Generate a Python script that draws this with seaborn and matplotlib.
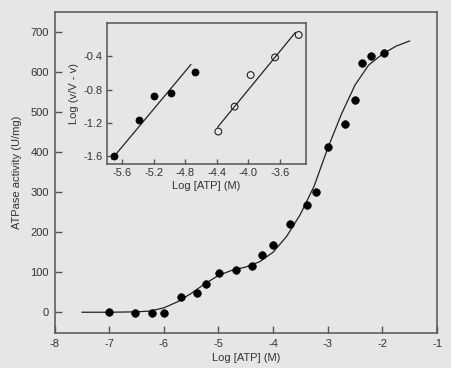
"""ATPase activity vs ATP concentration with Hill plot inset."""

import matplotlib

matplotlib.use("Agg")
import matplotlib.pyplot as plt
import pandas as pd
import seaborn as sns

# main panel: measured activity
log_atp = [-7.0, -6.52, -6.21, -5.99, -5.68, -5.39, -5.22, -4.99, -4.68, -4.39,
           -4.21, -4.0, -3.69, -3.38, -3.21, -2.99, -2.68, -2.50, -2.37, -2.20, -1.97]
activity = [0, -1, -2, -1, 38, 49, 71, 99, 105, 116,
            144, 167, 221, 268, 301, 414, 470, 531, 622, 641, 647]

# main panel: fitted curve
fit_x = [-7.5, -7.0, -6.5, -6.25, -6.0, -5.75, -5.5, -5.25, -5.0, -4.75, -4.5, -4.25,
         -4.0, -3.75, -3.5, -3.25, -3.0, -2.75, -2.5, -2.25, -2.0, -1.75, -1.5]
fit_y = [0, 0, 1, 3, 11, 26, 47, 71, 92, 105, 113, 126,
         150, 190, 245, 315, 410, 495, 568, 618, 645, 665, 678]

# inset: Hill plot, high-affinity (filled) and low-affinity (open) sites
hill_hi_x = [-5.705, -5.384, -5.197, -4.985, -4.685]
hill_hi_y = [-1.60, -1.171, -0.878, -0.838, -0.585]
hill_hi_line_x = [-5.735, -4.73]
hill_hi_line_y = [-1.641, -0.497]

hill_lo_x = [-4.383, -4.176, -3.973, -3.663, -3.363]
hill_lo_y = [-1.308, -1.007, -0.625, -0.412, -0.141]
hill_lo_line_x = [-4.392, -3.405]
hill_lo_line_y = [-1.255, -0.111]

BG = "#e6e6e6"
EDGE = "#555555"
TEXT = "#333333"


def style_axes(ax, tick_len, pad):
    ax.set_facecolor(BG)
    for spine in ax.spines.values():
        spine.set_color(EDGE)
        spine.set_linewidth(1.1)
    ax.tick_params(bottom=True, left=True, top=False, right=False,
                   direction="in", length=tick_len, width=1.0, color=EDGE,
                   labelcolor=TEXT, labelsize=8, pad=pad)


sns.set_style("ticks")
plt.rcParams["font.family"] = ["Liberation Sans", "DejaVu Sans"]
plt.rcParams["axes.unicode_minus"] = False

fig = plt.figure(figsize=(4.51, 3.68), dpi=100, facecolor=BG)

ax = fig.add_axes([0.121, 0.095, 0.848, 0.872])
style_axes(ax, 5, 4)
main = pd.DataFrame({"x": log_atp, "y": activity})
fit = pd.DataFrame({"x": fit_x, "y": fit_y})
sns.lineplot(data=fit, x="x", y="y", ax=ax, color="#222222", linewidth=0.9)
sns.scatterplot(data=main, x="x", y="y", ax=ax, color="black", s=30,
                edgecolor="black", linewidth=0.5, zorder=3)
ax.set_xlim(-8, -1)
ax.set_ylim(-52, 750)
ax.set_xticks([-8, -7, -6, -5, -4, -3, -2, -1])
ax.set_yticks(range(0, 701, 100))
ax.set_xlabel("Log [ATP] (M)", fontsize=8, color=TEXT, labelpad=3)
ax.set_ylabel("ATPase activity (U/mg)", fontsize=8, color=TEXT, labelpad=6)

ins = fig.add_axes([0.2366, 0.5543, 0.4419, 0.3824])
style_axes(ins, 3.5, 3)
sns.lineplot(x=hill_hi_line_x, y=hill_hi_line_y, ax=ins, color="#222222", linewidth=0.9)
sns.lineplot(x=hill_lo_line_x, y=hill_lo_line_y, ax=ins, color="#222222", linewidth=0.9)
sns.scatterplot(x=hill_hi_x, y=hill_hi_y, ax=ins, color="black", s=26,
                edgecolor="black", linewidth=0.5, zorder=3)
sns.scatterplot(x=hill_lo_x, y=hill_lo_y, ax=ins, facecolor="none", s=24,
                edgecolor="#222222", linewidth=0.8, zorder=3)
ins.set_xlim(-5.8, -3.27)
ins.set_ylim(-1.7, 0.0)
ins.set_xticks([-5.6, -5.2, -4.8, -4.4, -4.0, -3.6])
ins.set_xticklabels(["-5.6", "-5.2", "-4.8", "-4.4", "-4.0", "-3.6"])
ins.set_yticks([-1.6, -1.2, -0.8, -0.4])
ins.set_yticklabels(["-1.6", "-1.2", "-0.8", "-0.4"])
ins.set_xlabel("Log [ATP] (M)", fontsize=8, color=TEXT, labelpad=2)
ins.set_ylabel("Log (v/V - v)", fontsize=8, color=TEXT, labelpad=3)

fig.savefig("out.png", dpi=100, facecolor=BG)
